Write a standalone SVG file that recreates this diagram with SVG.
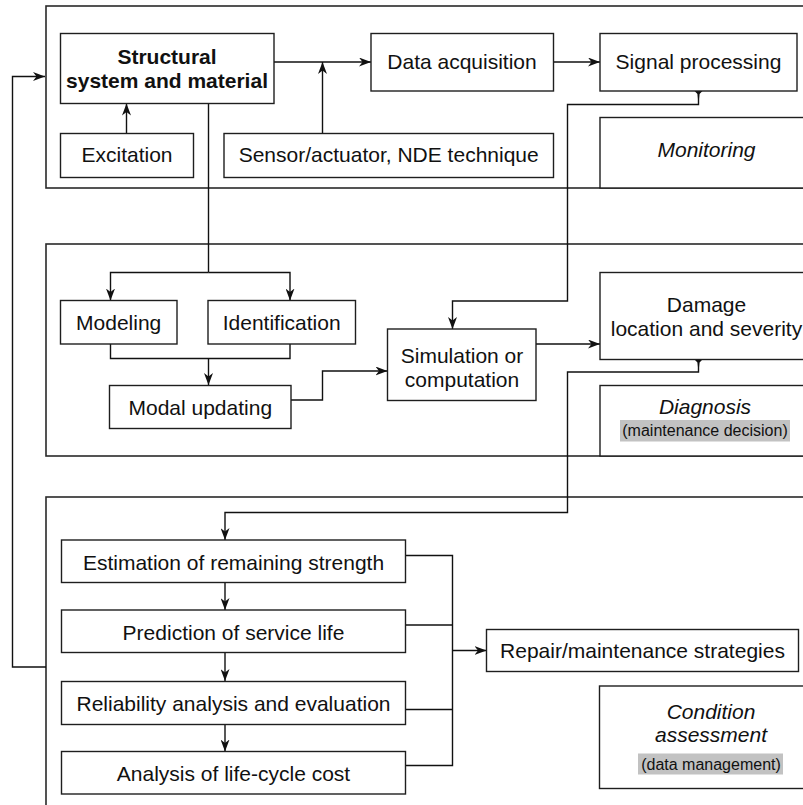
<svg xmlns="http://www.w3.org/2000/svg" width="803" height="805" viewBox="0 0 803 805">
  <style>
    .frame { fill: none; stroke: #2a2a2a; stroke-width: 1.6; }
    .box { fill: #ffffff; stroke: #1e1e1e; stroke-width: 1.4; }
    .lbl { font-family: "Liberation Sans", Arial, sans-serif; font-size: 21px; fill: #111; text-anchor: middle; }
    .bold { font-weight: bold; }
    .ital { font-style: italic; }
    .small { font-size: 16px; }
    .tag { fill: #c2c2c2; }
    .wire { fill: none; stroke: #111; stroke-width: 1.4; }
    .arr { marker-end: url(#head); }
  </style>
  <defs>
    <marker id="head" markerUnits="userSpaceOnUse" markerWidth="12" markerHeight="9" viewBox="0 0 12 9" refX="12" refY="4.5" orient="auto">
      <path d="M0,0 L12,4.5 L0,9 L3.5,4.5 Z" fill="#111"/>
    </marker>
  </defs>
  <rect width="803" height="805" fill="#ffffff"/>

  <!-- stage frames -->
  <g id="frames">
    <rect class="frame" x="46" y="6" width="800" height="182"/>
    <rect class="frame" x="46" y="244" width="800" height="212"/>
    <rect class="frame" x="46" y="497" width="800" height="400"/>
  </g>

  <!-- connectors -->
  <g id="connectors">
    <!-- feedback loop from condition assessment back to the structure -->
    <polyline class="wire arr" points="46,667 12.5,667 12.5,76.5 45,76.5"/>
    <line class="wire arr" x1="126.5" y1="133" x2="126.5" y2="103.5"/>
    <line class="wire arr" x1="274" y1="62" x2="371" y2="62"/>
    <line class="wire arr" x1="322.5" y1="133" x2="322.5" y2="62"/>
    <line class="wire arr" x1="553" y1="62" x2="600" y2="62"/>
    <!-- signal processing to simulation -->
    <polygon points="694.5,91 702.5,91 699.5,94 698.5,104 697.5,94" fill="#111"/>
    <polyline class="wire arr" points="698.5,91 698.5,104.5 567.5,104.5 567.5,301 452.5,301 452.5,329"/>
    <!-- structure to modeling / identification -->
    <polyline class="wire" points="208.5,103 208.5,272.5"/>
    <polyline class="wire arr" points="208.5,272.5 110.5,272.5 110.5,300.5"/>
    <polyline class="wire arr" points="208.5,272.5 290,272.5 290,300.5"/>
    <polyline class="wire" points="110.5,344 110.5,358.5 290,358.5 290,344"/>
    <line class="wire arr" x1="208.5" y1="358.5" x2="208.5" y2="385"/>
    <polyline class="wire arr" points="291,400 322.5,400 322.5,371 387.5,371"/>
    <line class="wire arr" x1="536" y1="344" x2="600" y2="344"/>
    <!-- damage to estimation -->
    <polygon points="694.5,359.5 702.5,359.5 699.5,362.5 698.5,372 697.5,362.5" fill="#111"/>
    <polyline class="wire arr" points="698.5,359.5 698.5,372 567.5,372 567.5,512.5 225,512.5 225,540"/>
    <line class="wire arr" x1="225" y1="583" x2="225" y2="610"/>
    <line class="wire arr" x1="225" y1="653" x2="225" y2="681"/>
    <line class="wire arr" x1="225" y1="724.5" x2="225" y2="751.5"/>
    <!-- assessment bus -->
    <polyline class="wire" points="406,555.5 452.5,555.5 452.5,765.5 406,765.5"/>
    <line class="wire" x1="406" y1="625" x2="452.5" y2="625"/>
    <line class="wire" x1="406" y1="709.5" x2="452.5" y2="709.5"/>
    <line class="wire arr" x1="452.5" y1="650.5" x2="486.5" y2="650.5"/>
  </g>

  <!-- monitoring stage -->
  <g id="structural-system">
    <rect class="box" x="60.5" y="33.5" width="213.5" height="70"/>
    <text class="lbl bold" x="167" y="64">Structural</text>
    <text class="lbl bold" x="167" y="87.5">system and material</text>
  </g>
  <g id="excitation">
    <rect class="box" x="60.5" y="133.5" width="133" height="44"/>
    <text class="lbl" x="127" y="162">Excitation</text>
  </g>
  <g id="sensor">
    <rect class="box" x="224" y="133.5" width="329.5" height="44"/>
    <text class="lbl" x="388.7" y="162">Sensor/actuator, NDE technique</text>
  </g>
  <g id="data-acquisition">
    <rect class="box" x="371" y="33.5" width="182.5" height="57.5"/>
    <text class="lbl" x="462" y="69">Data acquisition</text>
  </g>
  <g id="signal-processing">
    <rect class="box" x="600" y="33.5" width="197" height="57.5"/>
    <text class="lbl" x="698.5" y="69">Signal processing</text>
  </g>
  <g id="monitoring">
    <rect class="box" x="600" y="117.5" width="250" height="70.5"/>
    <text class="lbl ital" x="706.5" y="157">Monitoring</text>
  </g>

  <!-- diagnosis stage -->
  <g id="modeling">
    <rect class="box" x="60.5" y="300.5" width="116.5" height="43.5"/>
    <text class="lbl" x="118.7" y="330">Modeling</text>
  </g>
  <g id="identification">
    <rect class="box" x="208" y="300.5" width="147.5" height="43.5"/>
    <text class="lbl" x="281.7" y="330">Identification</text>
  </g>
  <g id="modal-updating">
    <rect class="box" x="109.5" y="385.5" width="181.5" height="43"/>
    <text class="lbl" x="200.3" y="414.5">Modal updating</text>
  </g>
  <g id="simulation">
    <rect class="box" x="387.5" y="329" width="148.5" height="71.5"/>
    <text class="lbl" x="462" y="362.5">Simulation or</text>
    <text class="lbl" x="462" y="387">computation</text>
  </g>
  <g id="damage">
    <rect class="box" x="600" y="272.5" width="250" height="87"/>
    <text class="lbl" x="706.5" y="311.5">Damage</text>
    <text class="lbl" x="706.5" y="336">location and severity</text>
  </g>
  <g id="diagnosis">
    <rect class="box" x="600" y="385.5" width="250" height="70.5"/>
    <text class="lbl ital" x="705" y="414">Diagnosis</text>
    <rect class="tag" x="620" y="420" width="170" height="21.5"/>
    <text class="lbl small" x="705" y="436">(maintenance decision)</text>
  </g>

  <!-- condition assessment stage -->
  <g id="estimation">
    <rect class="box" x="61.5" y="540" width="344" height="42.5"/>
    <text class="lbl" x="233.5" y="569.5">Estimation of remaining strength</text>
  </g>
  <g id="prediction">
    <rect class="box" x="61.5" y="610" width="344" height="42.5"/>
    <text class="lbl" x="233.5" y="639.5">Prediction of service life</text>
  </g>
  <g id="reliability">
    <rect class="box" x="61.5" y="681.5" width="344" height="43"/>
    <text class="lbl" x="233.5" y="710.5">Reliability analysis and evaluation</text>
  </g>
  <g id="life-cycle-cost">
    <rect class="box" x="61.5" y="751.5" width="344" height="42.5"/>
    <text class="lbl" x="233.5" y="780.5">Analysis of life-cycle cost</text>
  </g>
  <g id="repair">
    <rect class="box" x="486.5" y="629.5" width="312" height="42"/>
    <text class="lbl" x="642.5" y="657.5">Repair/maintenance strategies</text>
  </g>
  <g id="condition-assessment">
    <rect class="box" x="599.5" y="686" width="250" height="102.5"/>
    <text class="lbl ital" x="711" y="718.5">Condition</text>
    <text class="lbl ital" x="711" y="742">assessment</text>
    <rect class="tag" x="638" y="753.5" width="145" height="21"/>
    <text class="lbl small" x="711" y="770">(data management)</text>
  </g>
</svg>
